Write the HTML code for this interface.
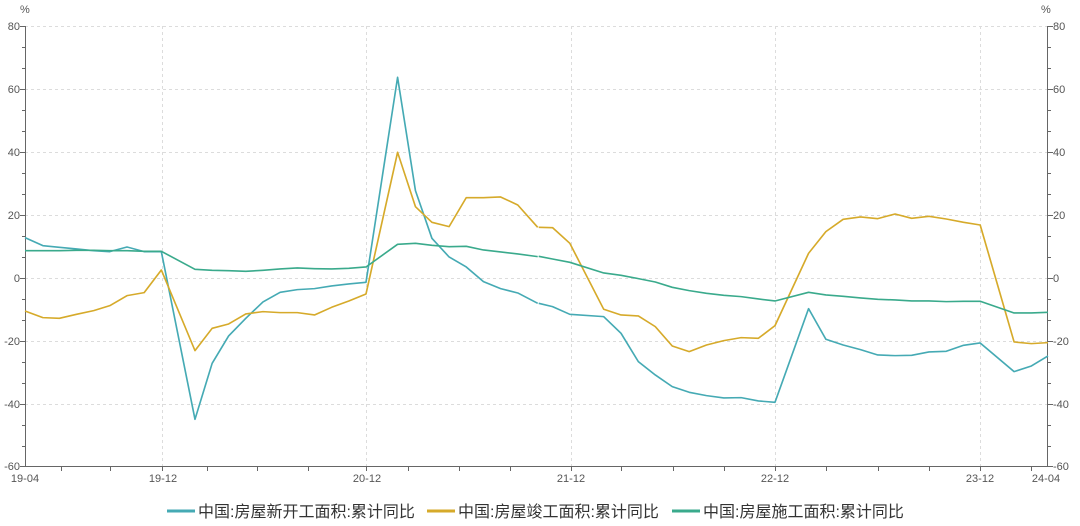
<!DOCTYPE html>
<html><head><meta charset="utf-8"><style>
html,body{margin:0;padding:0;background:#fff;}
svg{display:block;font-family:"Liberation Sans","Noto Sans CJK SC",sans-serif;}
</style></head><body>
<svg width="1080" height="526" viewBox="0 0 1080 526" xmlns="http://www.w3.org/2000/svg">
<g stroke="#dcdcdc" stroke-dasharray="3,3" stroke-width="1">
<line x1="25" y1="26.5" x2="1048" y2="26.5"/><line x1="25" y1="89.5" x2="1048" y2="89.5"/><line x1="25" y1="152.5" x2="1048" y2="152.5"/><line x1="25" y1="215.5" x2="1048" y2="215.5"/><line x1="25" y1="278.5" x2="1048" y2="278.5"/><line x1="25" y1="341.5" x2="1048" y2="341.5"/><line x1="25" y1="404.5" x2="1048" y2="404.5"/>
<line x1="162.5" y1="26" x2="162.5" y2="466"/><line x1="366.5" y1="26" x2="366.5" y2="466"/><line x1="571.5" y1="26" x2="571.5" y2="466"/><line x1="775.5" y1="26" x2="775.5" y2="466"/><line x1="980.5" y1="26" x2="980.5" y2="466"/>
</g>
<g stroke="#666" stroke-width="1" fill="none">
<line x1="25.5" y1="26" x2="25.5" y2="466"/><line x1="1047.5" y1="26" x2="1047.5" y2="466"/><line x1="25" y1="466.5" x2="1048" y2="466.5"/>
<path d="M20 26.5h5M20 89.5h5M20 152.5h5M20 215.5h5M20 278.5h5M20 341.5h5M20 404.5h5M20 466.5h5M22 47.5h3M22 68.5h3M22 110.5h3M22 131.5h3M22 173.5h3M22 194.5h3M22 236.5h3M22 257.5h3M22 299.5h3M22 320.5h3M22 362.5h3M22 383.5h3M22 425.5h3M22 446.5h3"/>
<path d="M1048 26.5h5M1048 89.5h5M1048 152.5h5M1048 215.5h5M1048 278.5h5M1048 341.5h5M1048 404.5h5M1048 466.5h5M1048 47.5h3M1048 68.5h3M1048 110.5h3M1048 131.5h3M1048 173.5h3M1048 194.5h3M1048 236.5h3M1048 257.5h3M1048 299.5h3M1048 320.5h3M1048 362.5h3M1048 383.5h3M1048 425.5h3M1048 446.5h3"/>
<path d="M61.5 466v5M110.5 466v5M162.5 466v5M207.5 466v5M257.5 466v5M308.5 466v5M366.5 466v5M408.5 466v5M459.5 466v5M510.5 466v5M571.5 466v5M621.5 466v5M673.5 466v5M724.5 466v5M775.5 466v5M826.5 466v5M878.5 466v5M929.5 466v5M980.5 466v5M1031.5 466v5"/>
</g>
<g fill="#555" font-size="11">
<text x="20" y="13" text-anchor="start">%</text><text x="1041" y="13">%</text>
<g text-anchor="end"><text x="20" y="30">80</text><text x="20" y="93">60</text><text x="20" y="156">40</text><text x="20" y="219">20</text><text x="20" y="282">0</text><text x="20" y="345">-20</text><text x="20" y="408">-40</text><text x="20" y="470">-60</text></g>
<g><text x="1053" y="30">80</text><text x="1053" y="93">60</text><text x="1053" y="156">40</text><text x="1053" y="219">20</text><text x="1053" y="282">0</text><text x="1053" y="345">-20</text><text x="1053" y="408">-40</text><text x="1053" y="470">-60</text></g>
<g text-anchor="middle"><text x="25" y="482">19-04</text><text x="163" y="482">19-12</text><text x="367" y="482">20-12</text><text x="571" y="482">21-12</text><text x="775" y="482">22-12</text><text x="980" y="482">23-12</text><text x="1046" y="482">24-04</text></g>
</g>
<g fill="none" stroke-width="1.6" stroke-linejoin="round">
<g transform="translate(25,0) scale(0.3434,0.3333) translate(-75,0)">
<polyline stroke="#45aab4" stroke-width="4.8" points="75,713 127,737 175,742 225,747 275,752 322,755 372,741 422,755 472,755 570,1258 620,1090 668,1008 718,955 768,906 818,877 868,869 918,866 968,858 1018,852 1068,847 1160,232 1212,572 1260,715 1310,771 1360,801 1410,845 1460,866 1510,879 1568,910"/>
<polyline stroke="#d6aa2a" stroke-width="4.8" points="75,933 127,953 175,955 225,943 275,932 322,917 372,887 422,878 472,810 570,1052 620,985 668,972 718,942 768,935 818,938 868,938 918,945 968,922 1018,903 1068,882 1160,457 1212,620 1260,667 1310,680 1360,593 1410,593 1460,591 1510,615 1568,682"/>
<polyline stroke="#3aaa8c" stroke-width="4.8" points="75,752 127,752 175,752 225,751 275,751 322,752 372,752 422,754 472,754 570,808 620,811 668,812 718,814 768,811 818,807 868,804 918,806 968,807 1018,805 1068,801 1160,733 1212,730 1260,736 1310,740 1360,739 1410,750 1460,756 1510,762 1568,770"/>
</g>
<g transform="translate(1048,0) scale(0.346,0.3333) translate(-1472,0)">
<polyline stroke="#45aab4" stroke-width="4.8" points="0,910 40,920 90,943 188,950 238,1000 288,1085 337,1125 386,1160 435,1177 485,1187 535,1194 585,1193 635,1203 683,1207 780,926 830,1018 880,1035 930,1049 980,1065 1030,1067 1078,1066 1128,1056 1178,1054 1228,1036 1276,1029 1374,1115 1424,1098 1472,1068"/>
<polyline stroke="#d6aa2a" stroke-width="4.8" points="0,682 40,683 90,730 188,928 238,945 288,948 337,980 386,1038 435,1055 485,1035 535,1022 585,1013 635,1015 683,977 780,760 830,695 880,658 930,651 980,656 1030,642 1078,655 1128,649 1178,657 1228,667 1276,675 1374,1026 1424,1031 1472,1028"/>
<polyline stroke="#3aaa8c" stroke-width="4.8" points="0,769 40,777 90,787 188,819 238,826 288,836 337,846 386,862 435,872 485,880 535,886 585,890 635,897 683,903 780,877 830,885 880,889 930,894 980,898 1030,900 1078,903 1128,903 1178,905 1228,904 1276,904 1374,939 1424,939 1472,937"/>
</g>
</g>
<g font-size="16" fill="#333">
<line x1="167" y1="511" x2="195" y2="511" stroke="#45aab4" stroke-width="3"/>
<text x="198" y="517">中国:房屋新开工面积:累计同比</text>
<line x1="427" y1="511" x2="455" y2="511" stroke="#d6aa2a" stroke-width="3"/>
<text x="458" y="517">中国:房屋竣工面积:累计同比</text>
<line x1="672" y1="511" x2="700" y2="511" stroke="#3aaa8c" stroke-width="3"/>
<text x="703" y="517">中国:房屋施工面积:累计同比</text>
</g>
</svg>
</body></html>
